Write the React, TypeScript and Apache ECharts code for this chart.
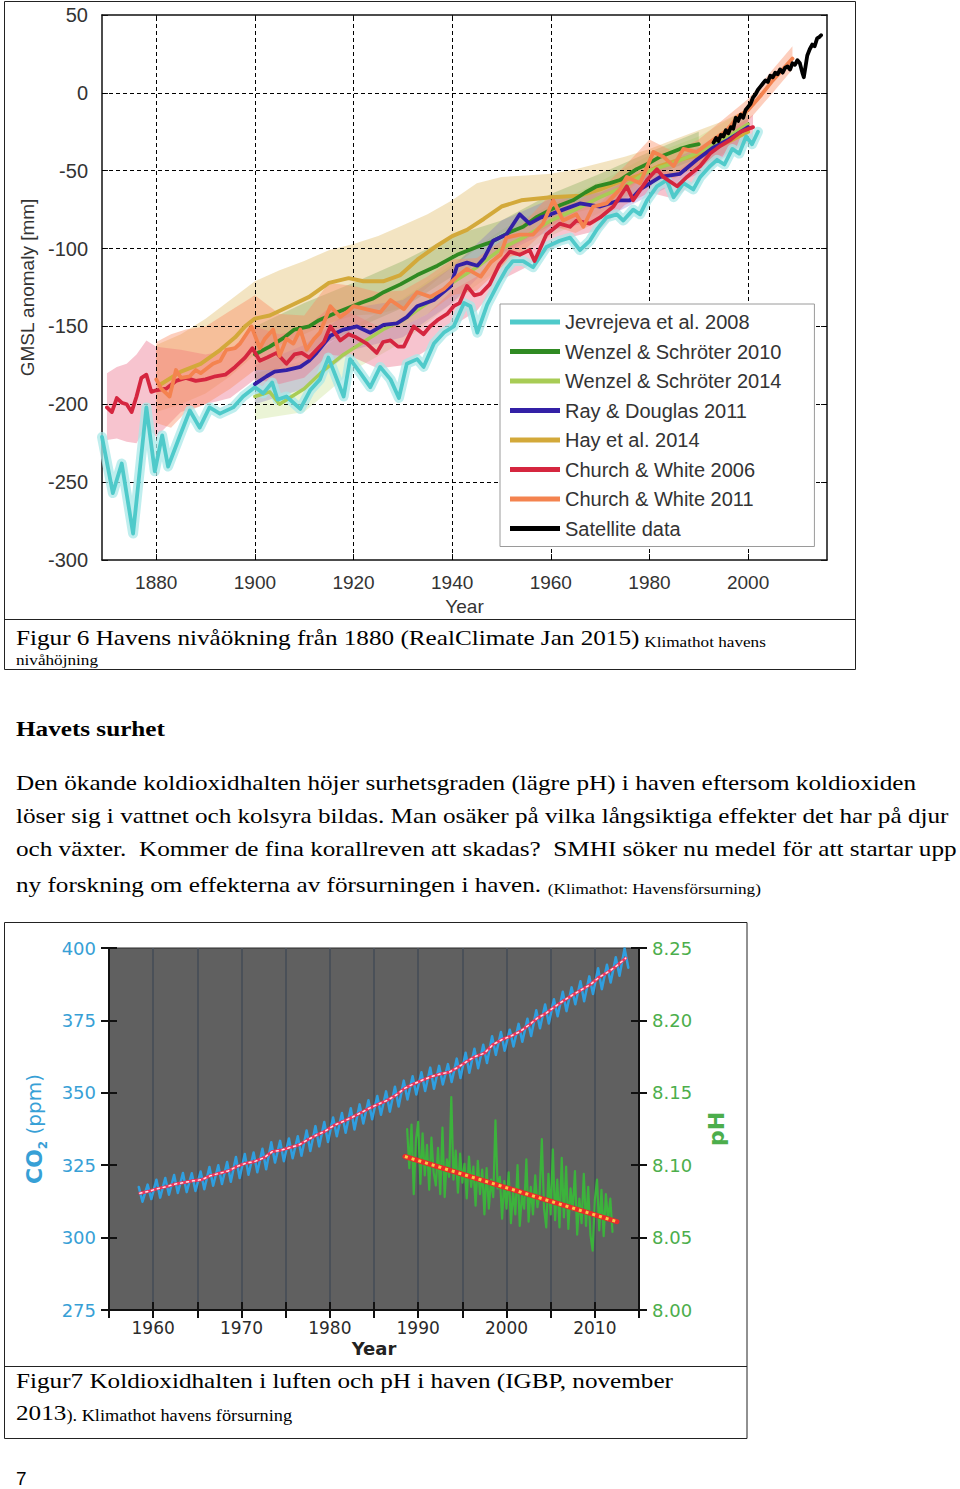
import React, { useEffect, useRef } from 'react';
import * as echarts from 'echarts';

// ---------------- Figure 6: GMSL anomaly (mm) ----------------
const gmslTickYears = [1880, 1900, 1920, 1940, 1960, 1980, 2000];
const gmslGridValues = [0, -50, -100, -150, -200, -250];

const jevrejeva: [number, number][] = [
  [1869, -221], [1871.2, -257], [1873, -238], [1875.3, -283], [1878, -202], [1879.7, -243], [1881.2, -220],
  [1882.4, -240], [1884.7, -221], [1886.8, -204], [1888.8, -215], [1890.8, -202], [1892.9, -206], [1895.6, -202],
  [1897.6, -195], [1900, -189], [1901.7, -193], [1903.5, -186], [1904.6, -197], [1906.4, -195], [1909.2, -203],
  [1911.2, -191], [1913.2, -184], [1914.9, -170], [1918, -195], [1919.3, -171], [1921.4, -180], [1923.4, -189],
  [1925.4, -176], [1927.5, -184], [1929.2, -196], [1930.8, -174], [1932.9, -171], [1934.2, -176], [1936.3, -161],
  [1938.3, -154], [1940.3, -150], [1942.4, -135], [1943.7, -137], [1945.1, -154], [1947.1, -136], [1949.4, -122],
  [1951, -113], [1952.3, -108], [1954.4, -108], [1956.4, -112], [1959.1, -99], [1961.8, -95], [1963.9, -93],
  [1965.9, -101], [1967.9, -95], [1969.5, -87], [1971.3, -80], [1973.4, -78], [1974.7, -82], [1976.7, -75],
  [1978.1, -78], [1979.5, -69], [1981.5, -60], [1983.5, -56], [1984.9, -67], [1986.9, -58], [1988.9, -62],
  [1990.3, -54], [1992.3, -47], [1993.7, -43], [1995.2, -46], [1996.8, -36], [1998.2, -39], [1999.6, -28],
  [2000.8, -33], [2002, -25],
];

const wenzel2010: [number, number][] = [
  [1900, -168], [1903, -163], [1906, -157], [1908, -152], [1911, -150], [1913, -146], [1916.6, -141], [1919, -138],
  [1921.4, -135], [1924, -132], [1926.1, -128], [1929.5, -123], [1932.9, -117], [1937, -111], [1941, -104],
  [1945, -99], [1947.8, -96], [1949.6, -93], [1952, -89], [1954.4, -86], [1957, -80], [1960, -75], [1962, -72],
  [1964.5, -69], [1967, -64], [1969.3, -60], [1972, -58], [1974, -56], [1977.4, -49], [1980, -45], [1982.2, -41],
  [1986.2, -36], [1988.3, -34], [1990, -33],
];

const wenzel2014: [number, number][] = [
  [1900, -195], [1903, -192], [1905, -200], [1907, -196], [1910, -190], [1914, -178], [1918, -168], [1922, -160],
  [1926, -152], [1930, -146], [1935, -135], [1940, -122], [1945, -112], [1950, -100], [1955, -92], [1960, -82],
  [1965, -75], [1970, -67], [1975, -60], [1980, -50], [1985, -45], [1990, -38], [1995, -30], [2000, -20],
];

const rayDouglas: [number, number][] = [
  [1900, -187], [1902.4, -182], [1904, -179], [1906.4, -178], [1909.2, -176], [1911, -172], [1912.5, -167],
  [1915.3, -156], [1918, -152], [1920.7, -150], [1923.4, -154], [1926.1, -149], [1928.8, -148], [1930.8, -144],
  [1932.9, -137], [1936.3, -133], [1939.7, -124], [1941, -111], [1943, -109], [1945.1, -111], [1946.5, -106],
  [1948.3, -95], [1951, -91], [1953.7, -78], [1955.7, -84], [1958, -80], [1960, -78], [1962.5, -75], [1965.9, -71],
  [1970, -73], [1974, -69], [1976.1, -69], [1978.1, -62], [1982.2, -54], [1986.2, -52], [1989.6, -43], [1993, -35],
  [1996, -30], [2000, -22],
];

const hay2014: [number, number][] = [
  [1881, -187], [1885, -179], [1889, -174], [1893, -165], [1896, -157], [1898, -150], [1900, -145], [1903, -143],
  [1907, -137], [1911, -131], [1915, -122], [1919, -119], [1922, -121], [1926, -121], [1929.5, -117], [1933, -107],
  [1937, -98], [1940, -92], [1943, -88], [1946.4, -81], [1950, -73], [1954, -69], [1960, -67], [1966, -66],
  [1970, -62], [1974, -57], [1978, -53], [1982, -47], [1986, -43], [1990, -40], [1995, -33], [2000, -25],
];

const churchWhite2006: [number, number][] = [
  [1870, -202], [1871, -205], [1872, -196], [1873, -199], [1874, -200], [1875, -205], [1876, -195], [1877, -183],
  [1878, -181], [1879, -192], [1880, -191], [1882, -190], [1884, -185], [1886, -183], [1888, -185], [1890, -184],
  [1892, -182], [1894, -181], [1896, -176], [1898, -170], [1899.5, -164], [1901, -172], [1902.5, -170],
  [1904.4, -167], [1906.4, -174], [1908, -168], [1909.5, -167], [1911, -170], [1912.5, -165], [1914, -160],
  [1915.3, -150], [1917.3, -159], [1919, -155], [1920.5, -157], [1922.7, -161], [1924.7, -167], [1926, -160],
  [1927.5, -159], [1929, -163], [1930.2, -163], [1932.2, -150], [1934.2, -155], [1935.5, -150], [1937, -146],
  [1939, -142], [1940.3, -137], [1941.5, -135], [1943, -124], [1944.5, -130], [1945.8, -129], [1947.6, -123],
  [1949.6, -110], [1951.7, -102], [1953.7, -104], [1955.7, -101], [1956.7, -108], [1959.1, -91], [1961.8, -84],
  [1963.9, -86], [1965.2, -82], [1967.9, -84], [1970, -80], [1972.7, -73], [1975.4, -60], [1976.7, -69],
  [1979.5, -56], [1981.5, -49], [1982.8, -54], [1985.6, -60], [1987.6, -54], [1990.3, -47], [1992.3, -39],
  [1994.4, -34], [1996.5, -30], [1998.5, -25], [2001, -22],
];

const churchWhite2011: [number, number][] = [
  [1880, -184], [1881, -190], [1882.7, -195], [1884, -178], [1885, -183], [1886.8, -182], [1888, -178],
  [1889, -180], [1891.5, -174], [1893, -172], [1894.2, -165], [1896, -164], [1897, -161], [1899.3, -150],
  [1901, -164], [1902, -158], [1903.7, -152], [1905, -169], [1906.4, -158], [1907.8, -161], [1909.2, -152],
  [1910.5, -165], [1912, -158], [1913.2, -154], [1915.3, -137], [1917.3, -144], [1919, -140], [1920, -137],
  [1922.7, -139], [1925.4, -141], [1927.5, -133], [1930.2, -139], [1932.9, -128], [1935.6, -131], [1938.3, -126],
  [1941, -118], [1943, -113], [1945.8, -118], [1947.8, -109], [1949.8, -104], [1951, -93], [1953.7, -91],
  [1956.4, -91], [1958.4, -84], [1960.5, -69], [1962.5, -82], [1965.2, -78], [1966.6, -86], [1968.6, -73],
  [1971.3, -71], [1974, -62], [1975.4, -54], [1978.1, -58], [1980.8, -38], [1982.8, -41], [1984.9, -47],
  [1986.9, -36], [1989.6, -38], [1993, -30], [1995.7, -24], [1998, -15], [2000, -11], [2002.5, -2], [2005, 8],
  [2007, 15], [2009, 22],
];

const satellite: [number, number][] = [
  [1993, -32], [1993.5, -29], [1994, -31], [1994.5, -27], [1995, -28], [1995.5, -24], [1996, -26], [1996.5, -22],
  [1997, -23], [1997.5, -16], [1998, -18], [1998.5, -14], [1999, -16], [1999.5, -11], [2000, -9], [2000.5, -7],
  [2001, -3], [2001.5, -1], [2002, 2], [2002.5, 4], [2003, 6], [2003.5, 8], [2004, 7], [2004.5, 11], [2005, 10],
  [2005.5, 13], [2006, 12], [2006.5, 15], [2007, 13], [2007.5, 16], [2008, 17], [2008.5, 15], [2009, 19],
  [2009.5, 18], [2010, 21], [2010.5, 19], [2011, 13], [2011.3, 10], [2011.7, 18], [2012, 24], [2012.5, 28],
  [2013, 31], [2013.5, 30], [2014, 35], [2014.5, 36], [2014.8, 37],
];

// uncertainty bands: [year, lower, upper]
const hayBand: [number, number, number][] = [
  [1880, -205, -162], [1885, -200, -155], [1890, -193, -145], [1895, -182, -133], [1900, -168, -121],
  [1905, -162, -114], [1910, -155, -108], [1915, -148, -101], [1920, -143, -97], [1925, -142, -92],
  [1930, -138, -85], [1935, -125, -78], [1940, -112, -69], [1945, -100, -58], [1950, -90, -54], [1955, -84, -53],
  [1960, -80, -52], [1965, -77, -49], [1970, -73, -45], [1975, -67, -41], [1980, -60, -36], [1985, -53, -30],
  [1990, -48, -24], [1995, -40, -18], [2000, -32, -10],
];
const wenzel2010Band: [number, number, number][] = [
  [1900, -185, -150], [1910, -168, -135], [1920, -152, -122], [1930, -138, -108], [1940, -118, -92],
  [1950, -103, -82], [1960, -85, -65], [1970, -68, -52], [1980, -54, -38], [1990, -42, -25],
];
const wenzel2014Band: [number, number, number][] = [
  [1900, -210, -180], [1910, -205, -172], [1920, -178, -150], [1930, -160, -132], [1940, -135, -110],
  [1950, -112, -88], [1960, -92, -72], [1970, -77, -57], [1980, -60, -40], [1990, -48, -28], [2000, -30, -10],
];
const rayBand: [number, number, number][] = [
  [1900, -200, -175], [1910, -190, -162], [1920, -165, -138], [1930, -157, -133], [1940, -135, -112],
  [1950, -104, -82], [1960, -88, -68], [1970, -82, -64], [1980, -66, -50], [1990, -52, -35], [2000, -30, -14],
];
const churchWhite2006Band: [number, number, number][] = [
  [1870, -223, -180], [1872, -222, -176], [1874, -224, -174], [1876, -225, -168], [1878, -214, -159],
  [1880, -221, -163], [1885, -205, -165], [1890, -200, -168], [1895, -196, -165], [1900, -184, -150],
  [1905, -187, -155], [1910, -183, -152], [1915, -168, -138], [1920, -170, -142], [1925, -177, -150],
  [1930, -175, -150], [1935, -165, -142], [1940, -150, -127], [1945, -140, -118], [1950, -120, -100],
  [1955, -112, -92], [1960, -100, -82], [1965, -92, -74], [1970, -88, -71], [1975, -72, -55], [1980, -64, -47],
  [1985, -68, -52], [1990, -55, -40], [1995, -42, -27], [2001, -30, -14],
];
const churchWhite2011Band: [number, number, number][] = [
  [1880, -212, -160], [1883, -215, -155], [1886, -205, -152], [1890, -200, -150], [1895, -190, -140],
  [1900, -178, -130], [1905, -178, -142], [1910, -175, -143], [1915, -152, -122], [1920, -150, -124],
  [1925, -152, -128], [1930, -150, -127], [1935, -142, -118], [1940, -130, -107], [1945, -127, -106],
  [1950, -112, -95], [1955, -100, -82], [1960, -85, -65], [1965, -90, -70], [1970, -82, -62], [1975, -65, -47],
  [1980, -50, -30], [1985, -55, -38], [1990, -46, -30], [1995, -32, -17], [2000, -18, -4], [2005, 0, 15],
  [2009, 15, 30],
];

// ---------------- Figure 7: CO2 (ppm) and pH ----------------
const co2Years = [
  1958, 1959, 1960, 1961, 1962, 1963, 1964, 1965, 1966, 1967, 1968, 1969, 1970, 1971, 1972, 1973, 1974, 1975,
  1976, 1977, 1978, 1979, 1980, 1981, 1982, 1983, 1984, 1985, 1986, 1987, 1988, 1989, 1990, 1991, 1992, 1993,
  1994, 1995, 1996, 1997, 1998, 1999, 2000, 2001, 2002, 2003, 2004, 2005, 2006, 2007, 2008, 2009, 2010, 2011,
  2012, 2013,
];
const co2Mean = [
  315.3, 316.0, 316.9, 317.6, 318.5, 319.0, 319.6, 320.0, 321.4, 322.2, 323.0, 324.6, 325.7, 326.3, 327.5, 329.7,
  330.2, 331.1, 332.0, 333.8, 335.4, 336.8, 338.8, 340.1, 341.5, 343.1, 344.7, 346.1, 347.4, 349.2, 351.6, 353.1,
  354.4, 355.6, 356.5, 357.1, 358.8, 360.8, 362.6, 363.7, 366.7, 368.4, 369.6, 371.1, 373.3, 375.8, 377.5, 379.8,
  381.9, 383.8, 385.6, 387.4, 389.9, 391.7, 393.9, 396.5,
];
const co2MayPeak = [
  317.5, 318.3, 320.0, 320.6, 321.6, 322.3, 322.2, 322.8, 324.4, 325.0, 326.1, 327.8, 328.9, 329.4, 330.7, 332.9,
  333.4, 334.2, 335.0, 337.0, 338.5, 339.9, 341.5, 343.0, 344.7, 346.0, 347.4, 348.9, 350.5, 352.1, 354.2, 355.7,
  357.1, 358.7, 359.3, 359.9, 361.8, 363.8, 365.2, 366.6, 369.5, 371.0, 371.8, 373.8, 375.6, 378.5, 380.5, 382.3,
  384.9, 386.4, 388.5, 390.2, 393.0, 394.2, 396.8, 399.8,
];
const co2OctLow = [
  312.4, 313.3, 313.8, 314.8, 315.4, 315.7, 316.1, 316.7, 317.9, 318.5, 319.3, 320.6, 321.7, 322.6, 323.6, 325.9,
  326.4, 327.4, 328.3, 329.9, 331.5, 333.0, 335.0, 336.2, 337.3, 339.4, 340.9, 342.4, 343.5, 345.3, 347.7, 349.4,
  350.6, 351.4, 352.9, 353.7, 355.1, 356.9, 358.5, 360.3, 363.1, 364.5, 366.0, 367.6, 369.6, 372.3, 373.9, 376.4,
  378.2, 380.6, 381.6, 384.1, 385.8, 388.1, 390.4, 393.2,
];
const co2PeakOffset = 0.37; // May
const co2LowOffset = 0.79; // October
const co2MeanOffset = 0.5;

// pH readings, one every quarter year from 1988.75
const phFirstYear = 1988.75;
const phStepYears = 0.25;
const phValues = [
  8.125, 8.098, 8.128, 8.080, 8.118, 8.130, 8.087, 8.122, 8.093, 8.114, 8.083, 8.119, 8.095, 8.086, 8.112, 8.080,
  8.126, 8.078, 8.104, 8.092, 8.147, 8.090, 8.110, 8.081, 8.108, 8.088, 8.101, 8.077, 8.106, 8.085, 8.099, 8.072,
  8.103, 8.080, 8.097, 8.066, 8.098, 8.070, 8.090, 8.078, 8.131, 8.084, 8.092, 8.063, 8.089, 8.070, 8.095, 8.060,
  8.082, 8.066, 8.100, 8.058, 8.079, 8.070, 8.104, 8.061, 8.085, 8.066, 8.093, 8.071, 8.080, 8.118, 8.070, 8.057,
  8.094, 8.066, 8.111, 8.062, 8.090, 8.057, 8.105, 8.064, 8.099, 8.056, 8.084, 8.069, 8.096, 8.052, 8.077, 8.060,
  8.094, 8.058, 8.085, 8.052, 8.041, 8.076, 8.090, 8.055, 8.083, 8.051, 8.080, 8.062, 8.077, 8.054,
];
const phTrend: [number, number][] = [[1988.5, 8.106], [2012.5, 8.061]];

// ---------------- helpers ----------------
const serif = "'Liberation Serif', 'Times New Roman', serif";
const sans = "'Liberation Sans', Arial, sans-serif";
const geo = "'DejaVu Sans', 'Open Sans', sans-serif";
const SERIF_SCALE = 1.145;

function line(name: string, data: any[], color: string, width: number, z: number, xi = 0, yi = 0, extra: any = {}) {
  return {
    type: 'line', name, data, xAxisIndex: xi, yAxisIndex: yi, showSymbol: false, symbol: 'none', z,
    silent: true, animation: false,
    lineStyle: { color, width, join: 'round', cap: 'round', ...(extra.lineStyle || {}) },
    itemStyle: { color },
  };
}

function band(rows: [number, number, number][], color: string, z: number) {
  return {
    type: 'custom', xAxisIndex: 0, yAxisIndex: 0, silent: true, z, data: rows,
    encode: { x: 0, y: [1, 2] },
    renderItem: (params: any, api: any) => {
      if (params.dataIndex !== 0) return null;
      const upper = rows.map((r) => api.coord([r[0], r[2]]));
      const lower = rows.map((r) => api.coord([r[0], r[1]])).reverse();
      return { type: 'polygon', shape: { points: upper.concat(lower) }, style: { fill: color } };
    },
  };
}

function serifText(y: number, text: string, size = 22, extra: any = {}) {
  return {
    type: 'text', x: 16, y, scaleX: SERIF_SCALE, silent: true, z: 100,
    style: { text, fontSize: size, fontFamily: serif, fill: '#000', verticalAlign: 'middle', ...extra },
  };
}

function buildOption() {
  const co2Monthly: [number, number][] = [];
  co2Years.forEach((y, i) => {
    co2Monthly.push([y + co2PeakOffset, co2MayPeak[i]]);
    co2Monthly.push([y + co2LowOffset, co2OctLow[i]]);
  });
  const co2Trend: [number, number][] = co2Years.map((y, i) => [y + co2MeanOffset, co2Mean[i]]);
  const phSeries: [number, number][] = phValues.map((v, i) => [phFirstYear + i * phStepYears, v]);

  const legendNames = [
    'Jevrejeva et al. 2008', 'Wenzel & Schröter 2010', 'Wenzel & Schröter 2014', 'Ray & Douglas 2011',
    'Hay et al. 2014', 'Church & White 2006', 'Church & White 2011', 'Satellite data',
  ];
  const colors = {
    jev: '#4fcaca', w10: '#2f8a22', w14: '#a8cc55', ray: '#3320a6', hay: '#d3a93a', cw06: '#d5263f',
    cw11: '#f4834f', sat: '#000000',
  };

  const gridDash = { color: '#000', width: 1, type: [4, 3] };
  const tickX = { fontSize: 19, color: '#333', fontFamily: sans };
  const tickY = { fontSize: 20, color: '#333', fontFamily: sans };

  const box = { stroke: '#222', fill: 'none', lineWidth: 1 };
  const richSmall = (small: number) => ({
    a: { fontSize: 22, fontFamily: serif, fill: '#000', lineHeight: 26, verticalAlign: 'bottom' },
    b: { fontSize: small, fontFamily: serif, fill: '#000', lineHeight: 22, verticalAlign: 'bottom' },
  });
  const graphic: any[] = [
    { type: 'rect', shape: { x: 4.5, y: 1.5, width: 851, height: 668 }, style: box, silent: true, z: 100 },
    { type: 'line', shape: { x1: 4.5, y1: 619.5, x2: 855.5, y2: 619.5 }, style: { stroke: '#222', lineWidth: 1 }, silent: true, z: 100 },
    serifText(636, '{a|Figur 6 Havens nivåökning från 1880 (RealClimate Jan 2015)}{b| Klimathot havens}', 22, { rich: richSmall(15) }),
    serifText(660, 'nivåhöjning', 15),
    serifText(729, 'Havets surhet', 22, { fontWeight: 'bold' }),
    serifText(783, 'Den ökande koldioxidhalten höjer surhetsgraden (lägre pH) i haven eftersom koldioxiden'),
    serifText(816, 'löser sig i vattnet och kolsyra bildas. Man osäker på vilka långsiktiga effekter det har på djur'),
    serifText(849, 'och växter.  Kommer de fina korallreven att skadas?  SMHI söker nu medel för att startar upp'),
    serifText(883, '{a|ny forskning om effekterna av försurningen i haven. }{b|(Klimathot: Havensförsurning)}', 22, { rich: richSmall(15) }),
    { type: 'rect', shape: { x: 4.5, y: 922.5, width: 742.5, height: 516 }, style: box, silent: true, z: 100 },
    { type: 'line', shape: { x1: 4.5, y1: 1366.5, x2: 747, y2: 1366.5 }, style: { stroke: '#222', lineWidth: 1 }, silent: true, z: 100 },
    serifText(1381, 'Figur7 Koldioxidhalten i luften och pH i haven (IGBP, november'),
    serifText(1411, '{a|2013}{b|). Klimathot havens försurning}', 22, { rich: richSmall(16) }),
    { type: 'text', x: 16, y: 1478, silent: true, z: 100, style: { text: '7', fontSize: 19, fontFamily: sans, fill: '#000', verticalAlign: 'middle' } },
  ];

  const co2Blue = '#37a0d6';
  const phGreen = '#4cae4c';

  return {
    animation: false,
    backgroundColor: '#fff',
    graphic,
    legend: {
      left: 500, top: 304, orient: 'vertical', selectedMode: false,
      padding: [8, 33, 8, 10], itemGap: 9.5, itemWidth: 50, itemHeight: 5,
      backgroundColor: '#fff', borderColor: '#9a9a9a', borderWidth: 1,
      textStyle: { fontSize: 20, lineHeight: 20, fontFamily: sans, color: '#333' },
      data: legendNames.map((n) => ({ name: n, icon: 'rect' })),
      z: 20,
    },
    grid: [
      { left: 102, top: 15, width: 725, height: 545, show: false },
      { left: 109, top: 948, width: 530, height: 362, show: true, backgroundColor: '#606060', borderColor: '#2a2a2a', borderWidth: 1 },
    ],
    xAxis: [
      {
        type: 'value', gridIndex: 0, min: 1869, max: 2016, position: 'bottom',
        axisLine: { show: true, onZero: false, lineStyle: { color: '#111', width: 1.5 } },
        axisTick: { show: true, inside: true, length: 6, customValues: gmslTickYears, lineStyle: { color: '#111' } },
        axisLabel: { show: true, customValues: gmslTickYears, margin: 13, formatter: (v: number) => String(v), ...tickX },
        splitLine: { show: false },
        name: 'Year', nameLocation: 'middle', nameGap: 37, nameTextStyle: { ...tickX },
      },
      {
        type: 'value', gridIndex: 0, min: 1869, max: 2016, position: 'top',
        axisLine: { show: true, onZero: false, lineStyle: { color: '#111', width: 1.5 } },
        axisTick: { show: true, inside: true, length: 6, customValues: gmslTickYears, lineStyle: { color: '#111' } },
        axisLabel: { show: false }, splitLine: { show: false },
      },
      {
        type: 'value', gridIndex: 1, min: 1955, max: 2015, interval: 5, position: 'bottom',
        axisLine: { show: true, onZero: false, lineStyle: { color: '#111', width: 2 } },
        axisTick: { show: true, inside: false, length: 8, lineStyle: { color: '#111', width: 2 } },
        axisLabel: {
          show: true, margin: 9, fontSize: 17, color: '#2b2b2b', fontFamily: geo,
          formatter: (v: number) => (v % 10 === 0 && v > 1955 && v < 2015 ? String(v) : ''),
        },
        splitLine: { show: true, lineStyle: { color: '#4a5058', width: 2 } },
        name: 'Year', nameLocation: 'middle', nameGap: 29,
        nameTextStyle: { fontSize: 18, fontWeight: 'bold', color: '#222', fontFamily: geo },
      },
      {
        type: 'value', gridIndex: 1, min: 1955, max: 2015, interval: 5, position: 'bottom',
        axisLine: { show: false, onZero: false },
        axisTick: { show: true, inside: true, length: 8, lineStyle: { color: '#111', width: 2 } },
        axisLabel: { show: false }, splitLine: { show: false },
      },
    ],
    yAxis: [
      {
        type: 'value', gridIndex: 0, min: -300, max: 50, interval: 50, position: 'left',
        axisLine: { show: true, onZero: false, lineStyle: { color: '#111', width: 1.5 } },
        axisTick: { show: true, inside: true, length: 6, lineStyle: { color: '#111' } },
        axisLabel: { show: true, margin: 14, ...tickY },
        splitLine: { show: false },
        name: 'GMSL anomaly [mm]', nameLocation: 'middle', nameGap: 64, nameRotate: 90,
        nameTextStyle: { ...tickX },
      },
      {
        type: 'value', gridIndex: 0, min: -300, max: 50, interval: 50, position: 'right',
        axisLine: { show: true, onZero: false, lineStyle: { color: '#111', width: 1.5 } },
        axisTick: { show: true, inside: true, length: 6, lineStyle: { color: '#111' } },
        axisLabel: { show: false }, splitLine: { show: false },
      },
      {
        type: 'value', gridIndex: 1, min: 275, max: 400, interval: 25, position: 'left',
        axisLine: { show: true, onZero: false, lineStyle: { color: '#111', width: 2 } },
        axisTick: { show: true, inside: false, length: 8, lineStyle: { color: '#111', width: 2 } },
        axisLabel: { show: true, margin: 13, fontSize: 18, color: co2Blue, fontFamily: geo },
        splitLine: { show: false },
        name: '{b|CO}{s|2}{n| (ppm)}', nameLocation: 'middle', nameGap: 60, nameRotate: 90,
        nameTextStyle: {
          rich: {
            b: { fontSize: 22, fontWeight: 'bold', color: co2Blue, fontFamily: geo, lineHeight: 30, verticalAlign: 'middle' },
            s: { fontSize: 12, fontWeight: 'bold', color: co2Blue, fontFamily: geo, lineHeight: 30, verticalAlign: 'bottom' },
            n: { fontSize: 20, color: co2Blue, fontFamily: geo, lineHeight: 30, verticalAlign: 'middle' },
          },
        },
      },
      {
        type: 'value', gridIndex: 1, min: 275, max: 400, interval: 25, position: 'left',
        axisLine: { show: false, onZero: false },
        axisTick: { show: true, inside: true, length: 8, lineStyle: { color: '#111', width: 2 } },
        axisLabel: { show: false }, splitLine: { show: false },
      },
      {
        type: 'value', gridIndex: 1, min: 8.0, max: 8.25, interval: 0.05, position: 'right',
        axisLine: { show: true, onZero: false, lineStyle: { color: '#111', width: 2 } },
        axisTick: { show: true, inside: false, length: 8, lineStyle: { color: '#111', width: 2 } },
        axisLabel: {
          show: true, margin: 13, fontSize: 18, color: phGreen, fontFamily: geo,
          formatter: (v: number) => v.toFixed(2),
        },
        splitLine: { show: false },
        name: 'pH', nameLocation: 'middle', nameGap: 66, nameRotate: 90,
        nameTextStyle: { fontSize: 22, fontWeight: 'bold', color: phGreen, fontFamily: geo },
      },
      {
        type: 'value', gridIndex: 1, min: 8.0, max: 8.25, interval: 0.05, position: 'right',
        axisLine: { show: false, onZero: false },
        axisTick: { show: true, inside: true, length: 8, lineStyle: { color: '#111', width: 2 } },
        axisLabel: { show: false }, splitLine: { show: false },
      },
    ],
    series: [
      band(hayBand, 'rgba(228, 196, 120, 0.45)', 1),
      band(wenzel2014Band, 'rgba(190, 220, 120, 0.30)', 1),
      band(wenzel2010Band, 'rgba(110, 160, 70, 0.30)', 1),
      band(rayBand, 'rgba(120, 100, 200, 0.28)', 1),
      band(churchWhite2006Band, 'rgba(235, 115, 140, 0.42)', 1),
      band(churchWhite2011Band, 'rgba(250, 140, 100, 0.42)', 1),
      {
        type: 'line', name: 'grid', data: [], xAxisIndex: 0, yAxisIndex: 0, silent: true, z: 2,
        markLine: {
          silent: true, symbol: 'none', label: { show: false }, z: 2,
          lineStyle: gridDash,
          data: [
            ...gmslTickYears.map((v) => ({ xAxis: v })),
            ...gmslGridValues.map((v) => ({ yAxis: v })),
          ],
        },
      },
      line('Jevrejeva halo', jevrejeva, 'rgba(170, 232, 232, 0.75)', 10, 3),
      line('Hay et al. 2014', hay2014, colors.hay, 4, 4),
      line('Wenzel & Schröter 2014', wenzel2014, colors.w14, 3.5, 4),
      line('Wenzel & Schröter 2010', wenzel2010, colors.w10, 3.8, 4),
      line('Jevrejeva et al. 2008', jevrejeva, colors.jev, 3.8, 4),
      line('Ray & Douglas 2011', rayDouglas, colors.ray, 3.8, 4),
      line('Church & White 2006', churchWhite2006, colors.cw06, 3.8, 4),
      line('Church & White 2011', churchWhite2011, colors.cw11, 3.8, 4),
      line('Satellite data', satellite, colors.sat, 3.8, 5),
      // Figure 7
      line('CO2 monthly', co2Monthly, '#2f9fe0', 2.5, 3, 2, 2),
      line('CO2 trend', co2Trend, '#f2335c', 3, 4, 2, 2),
      line('CO2 trend dash', co2Trend, '#ffffff', 1.5, 5, 2, 2, { lineStyle: { type: [2, 4], opacity: 0.85 } }),
      line('pH', phSeries, '#3cb33c', 2.2, 3, 2, 4),
      line('pH trend', phTrend, '#ec2a2a', 5, 4, 2, 4),
      line('pH trend dash', phTrend, '#f6c846', 3, 5, 2, 4, { lineStyle: { type: [3, 4], cap: 'butt' } }),
    ],
  };
}

export default function App() {
  const ref = useRef<HTMLDivElement>(null);
  useEffect(() => {
    if (!ref.current) return;
    const chart = echarts.init(ref.current, undefined, { renderer: 'svg', width: 960, height: 1489 });
    chart.setOption(buildOption() as any);
    return () => chart.dispose();
  }, []);
  return (
    <div
      ref={ref}
      style={{ position: 'absolute', left: 0, top: 0, width: 960, height: 1489, background: '#fff' }}
    />
  );
}
